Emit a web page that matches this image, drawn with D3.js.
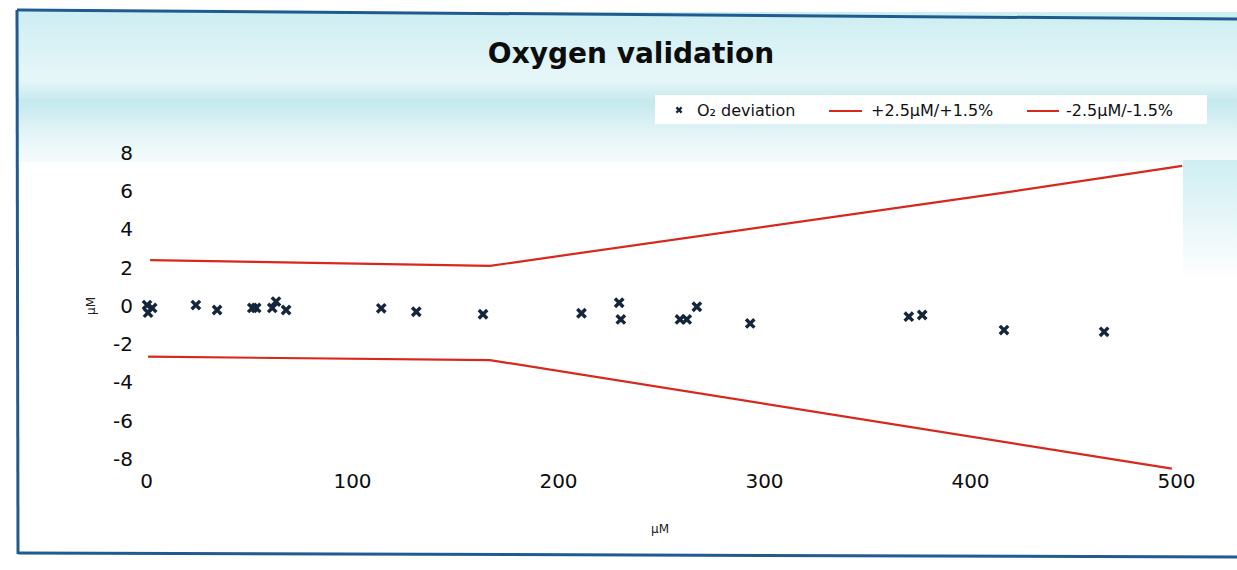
<!DOCTYPE html>
<html>
<head>
<meta charset="utf-8">
<script src="https://cdn.jsdelivr.net/npm/d3@7"></script>
<style>
  html, body { margin: 0; padding: 0; background: #ffffff; }
  svg { display: block; }
</style>
</head>
<body>
<svg id="chart" width="1237" height="570"></svg>
<script>
// ---- data ----
const title = "Oxygen validation";
const xTickValues = [0, 100, 200, 300, 400, 500];
const yTickValues = [-8, -6, -4, -2, 0, 2, 4, 6, 8];
const xAxisTitle = "µM";
const yAxisTitle = "µM";
const legendLabels = ["O₂ deviation", "+2.5µM/+1.5%", "-2.5µM/-1.5%"];

// O2 deviation scatter (x in µM, deviation in µM)
const devX = [0.5, 1.0, 3.0, 24.2, 34.5, 51.6, 53.5, 61.3, 63.1, 68.0, 114.2, 131.2, 163.6, 211.4, 229.7, 230.5, 259.2, 262.5, 267.4, 293.3, 370.3, 376.8, 416.5, 465.1];
const devY = [0.05, -0.35, -0.10, 0.05, -0.21, -0.10, -0.10, -0.10, 0.23, -0.21, -0.12, -0.30, -0.43, -0.38, 0.17, -0.70, -0.70, -0.70, -0.04, -0.91, -0.56, -0.47, -1.26, -1.35];

// tolerance lines
const upperX = [2, 167, 420, 503];
const upperY = [2.40, 2.10, 5.98, 7.33];
const lowerX = [1, 167, 498];
const lowerY = [-2.65, -2.83, -8.50];

// ---- drawing ----
const svg = d3.select("#chart");
const W = 1237, H = 570;
const font = "'DejaVu Sans', Verdana, sans-serif";

const defs = svg.append("defs");
const g1 = defs.append("linearGradient").attr("id", "bandGrad").attr("x1", 0).attr("y1", 0).attr("x2", 0).attr("y2", 1);
g1.append("stop").attr("offset", "0%").attr("stop-color", "#cdeef2");
g1.append("stop").attr("offset", "45%").attr("stop-color", "#e6f6f8");
g1.append("stop").attr("offset", "60%").attr("stop-color", "#c4e9ee");
g1.append("stop").attr("offset", "80%").attr("stop-color", "#e3f4f6");
g1.append("stop").attr("offset", "100%").attr("stop-color", "#f4fbfc");
const g2 = defs.append("linearGradient").attr("id", "rightGrad").attr("x1", 0).attr("y1", 0).attr("x2", 0).attr("y2", 1);
g2.append("stop").attr("offset", "0%").attr("stop-color", "#cfeef2");
g2.append("stop").attr("offset", "100%").attr("stop-color", "#ffffff");

// scanned background bands
svg.append("rect").attr("x", 18).attr("y", 12).attr("width", W - 18).attr("height", 150).attr("fill", "url(#bandGrad)");
svg.append("rect").attr("x", 1183).attr("y", 160).attr("width", W - 1183).attr("height", 120).attr("fill", "url(#rightGrad)");

// frame (scan edges)
svg.append("line").attr("x1", 17).attr("y1", 10).attr("x2", W).attr("y2", 19).attr("stroke", "#1f5b8f").attr("stroke-width", 3);
svg.append("line").attr("x1", 17).attr("y1", 10).attr("x2", 18).attr("y2", 554).attr("stroke", "#1f5b8f").attr("stroke-width", 3);
svg.append("line").attr("x1", 18).attr("y1", 553).attr("x2", W).attr("y2", 557).attr("stroke", "#1f5b8f").attr("stroke-width", 3);

const x = d3.scaleLinear().domain([0, 500]).range([146, 1176]);
const y = d3.scaleLinear().domain([0, 8]).range([306, 153]);

// plot area (white)
svg.append("rect").attr("x", 140).attr("y", 162).attr("width", 1183 - 140).attr("height", 300).attr("fill", "#ffffff");

// title
svg.append("text").attr("x", 631).attr("y", 63).attr("text-anchor", "middle")
  .attr("font-family", font).attr("font-weight", "bold").attr("font-size", 28)
  .attr("fill", "#0d0d0d").text(title);

// y axis (labels only)
const fmt = d => String(d);
const yAxis = d3.axisLeft(y).tickValues(yTickValues).tickSize(0).tickPadding(0).tickFormat(fmt);
const ya = svg.append("g").attr("transform", "translate(133,0)").call(yAxis);
ya.select(".domain").remove();
ya.selectAll("text").attr("font-family", font).attr("font-size", 20).attr("fill", "#0d0d0d");

// x axis (labels only)
const xAxis = d3.axisBottom(x).tickValues(xTickValues).tickSize(0).tickPadding(0).tickFormat(fmt);
const xa = svg.append("g").attr("transform", "translate(0,474)").call(xAxis);
xa.select(".domain").remove();
xa.selectAll("text").attr("font-family", font).attr("font-size", 20).attr("fill", "#0d0d0d");

// axis titles
svg.append("text").attr("x", 660).attr("y", 533).attr("text-anchor", "middle")
  .attr("font-family", font).attr("font-size", 12).attr("fill", "#222").text(xAxisTitle);
svg.append("text").attr("transform", "translate(95,306) rotate(-90)").attr("text-anchor", "middle")
  .attr("font-family", font).attr("font-size", 12).attr("fill", "#222").text(yAxisTitle);

// tolerance lines
const red = "#d8281c";
const line = d3.line().x(d => x(d[0])).y(d => y(d[1]));
svg.append("path").datum(d3.zip(upperX, upperY)).attr("d", line)
  .attr("fill", "none").attr("stroke", red).attr("stroke-width", 2.2);
svg.append("path").datum(d3.zip(lowerX, lowerY)).attr("d", line)
  .attr("fill", "none").attr("stroke", red).attr("stroke-width", 2.2);

// scatter markers
const markerPath = (s) => `M${-s},${-s}L${s},${s}M${-s},${s}L${s},${-s}`;
const navy = "#16263a";
svg.append("g").selectAll("path").data(d3.zip(devX, devY)).join("path")
  .attr("transform", d => `translate(${x(d[0])},${y(d[1])})`)
  .attr("d", markerPath(4.2))
  .attr("stroke", navy).attr("stroke-width", 3.4).attr("fill", "none");

// legend
const lg = svg.append("g");
lg.append("rect").attr("x", 655).attr("y", 95).attr("width", 552).attr("height", 29).attr("fill", "#ffffff");
lg.append("path").attr("transform", "translate(679,110)").attr("d", markerPath(2.6))
  .attr("stroke", navy).attr("stroke-width", 2.2).attr("fill", "none");
lg.append("text").attr("x", 697).attr("y", 116).attr("font-family", font).attr("font-size", 16).attr("fill", "#111").text(legendLabels[0]);
lg.append("line").attr("x1", 829).attr("x2", 862).attr("y1", 111).attr("y2", 111).attr("stroke", red).attr("stroke-width", 2);
lg.append("text").attr("x", 871).attr("y", 116).attr("font-family", font).attr("font-size", 16).attr("fill", "#111").text(legendLabels[1]);
lg.append("line").attr("x1", 1027).attr("x2", 1059).attr("y1", 111).attr("y2", 111).attr("stroke", red).attr("stroke-width", 2);
lg.append("text").attr("x", 1066).attr("y", 116).attr("font-family", font).attr("font-size", 16).attr("fill", "#111").text(legendLabels[2]);
</script>
</body>
</html>
